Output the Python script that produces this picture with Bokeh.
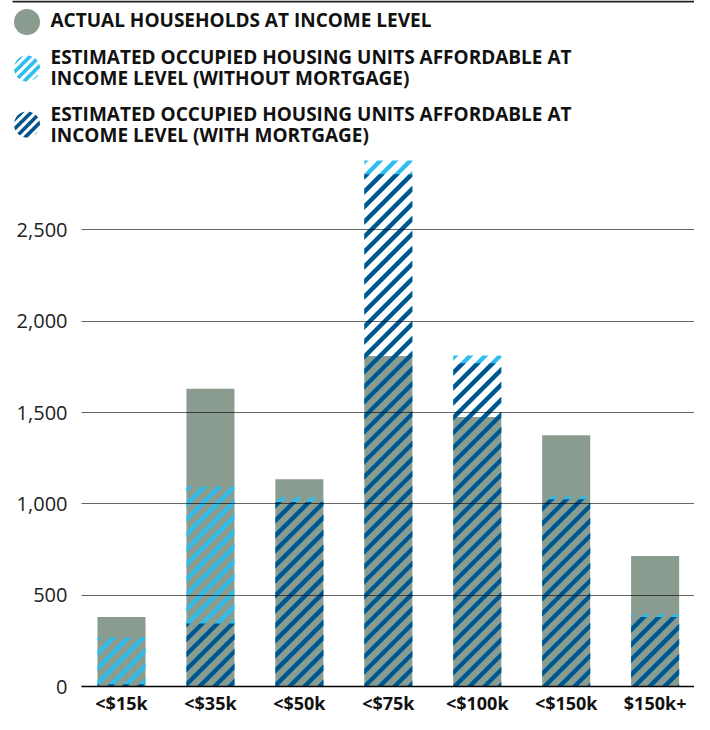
import math
from bokeh.plotting import figure
from bokeh.models import Range1d, FixedTicker, NumeralTickFormatter, ColumnDataSource
from bokeh.embed import file_html
from bokeh.resources import INLINE
from bokeh.core.properties import value

# ---- data ----
categories = ["<$15k", "<$35k", "<$50k", "<$75k", "<$100k", "<$150k", "$150k+"]
actual_households = [380, 1630, 1135, 1810, 1475, 1375, 715]
units_without_mortgage = [268, 1095, 1035, 2880, 1812, 1040, 396]
units_with_mortgage = [12, 345, 1010, 2805, 1770, 1025, 380]
y_ticks = [0, 500, 1000, 1500, 2000, 2500]
legend_lines = [
    ["ACTUAL HOUSEHOLDS AT INCOME LEVEL"],
    ["ESTIMATED OCCUPIED HOUSING UNITS AFFORDABLE AT", "INCOME LEVEL (WITHOUT MORTGAGE)"],
    ["ESTIMATED OCCUPIED HOUSING UNITS AFFORDABLE AT", "INCOME LEVEL (WITH MORTGAGE)"],
]

# ---- style / layout (canvas pixel coordinates) ----
GRAY = "#8A9B8F"
LIGHT = "#2DBEEE"
DARK = "#00558C"
FONT = "Open Sans"
W, H = 694, 714
X0, XS = 121.0, 88.94    # px of first category centre, px per category
Y0 = 686.0               # px of value 0
Y_TOP_PX, Y_TOP_VAL = 160.0, 2880.0
YS = (Y0 - Y_TOP_PX) / Y_TOP_VAL
FRAME_L, FRAME_R = 81, W
BW = 0.54                # bar width (category units)
STRIPE_PERIOD, STRIPE_WIDTH = 15.0, 4.3      # px, 45-degree "/" stripes
LEG_PERIOD, LEG_WIDTH = 9.5, 3.6


def sx(px):
    return (px - X0) / XS


def sy(py):
    return (Y0 - py) / YS


def _clip(poly, a, b, c):
    """keep the part of a polygon where a*x + b*y <= c"""
    out = []
    n = len(poly)
    for i in range(n):
        P, Q = poly[i], poly[(i + 1) % n]
        fp = a * P[0] + b * P[1] - c
        fq = a * Q[0] + b * Q[1] - c
        if fp <= 0:
            out.append(P)
        if (fp < 0 < fq) or (fq < 0 < fp):
            t = fp / (fp - fq)
            out.append((P[0] + t * (Q[0] - P[0]), P[1] + t * (Q[1] - P[1])))
    return out


def stripe_patches(poly_px, period, width):
    """45-degree stripes (screen-space), clipped to a convex polygon, returned in data units"""
    s = [x + y for x, y in poly_px]
    half = width * math.sqrt(2) / 2
    xs_out, ys_out = [], []
    for k in range(math.floor(min(s) / period) - 1, math.ceil(max(s) / period) + 2):
        c = k * period
        part = _clip(poly_px, 1, 1, c + half)
        part = _clip(part, -1, -1, -(c - half)) if part else part
        if len(part) >= 3:
            xs_out.append([sx(x) for x, _ in part])
            ys_out.append([sy(y) for _, y in part])
    return xs_out, ys_out


def bar_stripes(tops, period, width):
    all_x, all_y = [], []
    for i, top in enumerate(tops):
        L, R = X0 + XS * (i - BW / 2), X0 + XS * (i + BW / 2)
        T, B = Y0 - YS * top, Y0
        px, py = stripe_patches([(L, B), (R, B), (R, T), (L, T)], period, width)
        all_x += px
        all_y += py
    return all_x, all_y


xs = list(range(len(categories)))
src = ColumnDataSource(dict(x=xs, actual=actual_households))

p = figure(width=W, height=H, title=None,
           x_range=Range1d(sx(0), sx(W)),
           y_range=Range1d(sy(H), sy(0)),
           toolbar_location=None, output_backend="svg", min_border=0)
p.outline_line_color = None
p.xgrid.visible = False
p.ygrid.visible = False

# bars: actual households (solid), then the two hatched estimates
p.vbar(x="x", top="actual", width=BW, source=src, fill_color=GRAY, line_color=None)
lx, ly = bar_stripes(units_without_mortgage, STRIPE_PERIOD, STRIPE_WIDTH)
p.patches(xs=lx, ys=ly, fill_color=LIGHT, line_color=None)
dx, dy = bar_stripes(units_with_mortgage, STRIPE_PERIOD, STRIPE_WIDTH)
p.patches(xs=dx, ys=dy, fill_color=DARK, line_color=None)

# y axis: labels on the left, long inward ticks act as grid lines over the bars
p.yaxis.fixed_location = sx(FRAME_L)
p.yaxis.ticker = FixedTicker(ticks=y_ticks)
p.yaxis.formatter = NumeralTickFormatter(format="0,0")
p.yaxis.axis_line_color = None
p.yaxis.minor_tick_line_color = None
p.yaxis.major_tick_out = 0
p.yaxis.major_tick_in = FRAME_R - FRAME_L
p.yaxis.major_tick_line_color = "#000000"
p.yaxis.major_tick_line_alpha = 0.6
p.yaxis.major_tick_line_width = 1.2
p.yaxis.major_label_standoff = 14
p.yaxis.major_label_text_font = FONT
p.yaxis.major_label_text_font_size = "20px"
p.yaxis.major_label_text_color = "#222222"

# x axis: baseline at 0
p.xaxis.fixed_location = 0
p.xaxis.bounds = (sx(FRAME_L), sx(FRAME_R))
p.xaxis.ticker = FixedTicker(ticks=xs)
p.xaxis.major_label_overrides = {i: c for i, c in zip(xs, categories)}
p.xaxis.axis_line_color = "#000000"
p.xaxis.axis_line_width = 1.5
p.xaxis.major_tick_line_color = None
p.xaxis.minor_tick_line_color = None
p.xaxis.major_label_standoff = -2
p.xaxis.major_label_text_font = FONT
p.xaxis.major_label_text_font_style = "bold"
p.xaxis.major_label_text_font_size = "18px"
p.xaxis.major_label_text_color = "#111111"

# ---- legend (top of canvas) ----
p.segment(x0=[sx(12)], y0=[sy(1)], x1=[sx(W)], y1=[sy(1)],
          line_color="#222222", line_width=2)
glyph_px = 26.5
glyph_r = 13.0
text_px = 50
glyph_py = [21.5, 68, 124]
line_py = [[19.5], [56.5, 77.5], [113.5, 134.5]]
p.scatter(x=[sx(glyph_px)], y=[sy(glyph_py[0])], size=2 * glyph_r, marker="circle",
          fill_color=GRAY, line_color=None)
for gy, col in [(glyph_py[1], LIGHT), (glyph_py[2], DARK)]:
    circle = [(glyph_px + glyph_r * math.cos(2 * math.pi * j / 48),
               gy + glyph_r * math.sin(2 * math.pi * j / 48)) for j in range(48)]
    cx, cy = stripe_patches(circle, LEG_PERIOD, LEG_WIDTH)
    p.patches(xs=cx, ys=cy, fill_color=col, line_color=None)
tx, ty, tt = [], [], []
for lines, pys in zip(legend_lines, line_py):
    for t, py in zip(lines, pys):
        tx.append(sx(text_px))
        ty.append(sy(py))
        tt.append(t)
p.text(x=tx, y=ty, text=tt, text_font=value(FONT), text_font_style="bold",
       text_font_size="19px", text_color="#111111", text_baseline="middle")

open("out.html", "w").write(file_html(p, INLINE))
